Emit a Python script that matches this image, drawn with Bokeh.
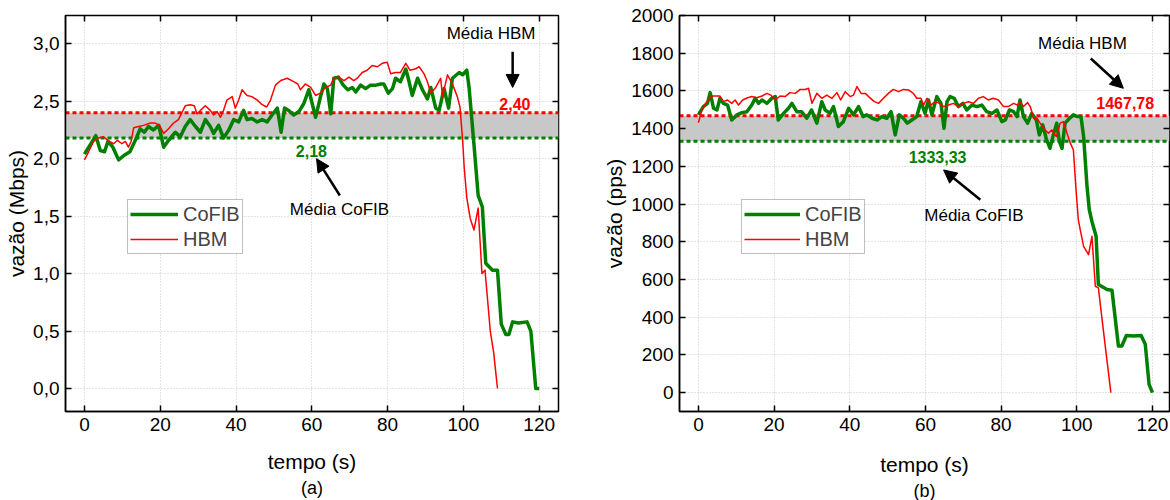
from bokeh.plotting import figure
from bokeh.models import (LinearAxis, FixedTicker, CustomJSTickFormatter, BoxAnnotation, Span,
                          Arrow, NormalHead, Legend, LegendItem, Title, Range1d, Label)
from bokeh.layouts import row
from bokeh.embed import file_html
from bokeh.resources import INLINE

# ---------------- data (a): throughput in Mbps ----------------
a_cofib_t = [0, 1.5, 3, 4.2, 5.3, 6.2, 7.5, 9, 10.5, 12, 13.7, 14.7, 15.8, 16.9, 18.2, 19.6, 20.9, 22.2, 24, 25.3,
             26.6, 27.9, 29.3, 30.6, 31.9, 33.2, 34.1, 35.4, 36.7, 38.1, 39.4, 40.7, 42, 42.9, 44.2, 45.6, 46.9, 48.2,
             49.5, 50.9, 51.9, 52.8, 53.9, 55.2, 56.6, 57.9, 59.2, 61, 62.3, 63.2, 64.1, 65, 65.8, 67, 68.3, 69.5,
             70.7, 71.6, 72.9, 74.2, 75.5, 76.9, 78.2, 79, 80.2, 81.3, 82.1, 83.4, 84.8, 85.6, 86.5, 87.9, 89.2,
             90.5, 91.4, 92.7, 93.6, 94.9, 96.1, 97.1, 98.9, 99.8, 100.9, 101.5, 102.8, 103.9, 105, 105.9, 107.7,
             109, 110, 111.2, 112, 113, 114.5, 116.8, 117.8, 119.1, 120]
a_cofib_v = [2.04, 2.12, 2.20, 2.07, 2.06, 2.15, 2.10, 1.99, 2.03, 2.06, 2.18, 2.26, 2.23, 2.28, 2.25, 2.29, 2.10,
             2.16, 2.23, 2.19, 2.28, 2.34, 2.28, 2.23, 2.34, 2.28, 2.22, 2.29, 2.18, 2.25, 2.34, 2.32, 2.42, 2.34,
             2.35, 2.32, 2.34, 2.32, 2.38, 2.44, 2.23, 2.44, 2.42, 2.38, 2.41, 2.48, 2.60, 2.36, 2.54, 2.65, 2.61,
             2.39, 2.70, 2.71, 2.64, 2.60, 2.62, 2.58, 2.64, 2.61, 2.64, 2.64, 2.65, 2.65, 2.57, 2.61, 2.70, 2.67,
             2.78, 2.68, 2.55, 2.70, 2.60, 2.52, 2.62, 2.44, 2.42, 2.61, 2.44, 2.70, 2.75, 2.73, 2.77, 2.62, 2.12,
             1.68, 1.58, 1.09, 1.03, 1.03, 0.56, 0.47, 0.47, 0.58, 0.57, 0.58, 0.50, 0.00, 0.00]
a_hbm_t = [0, 1.1, 2.4, 3.7, 5, 6.6, 7.7, 8.7, 9.9, 10.8, 11.6, 12.3, 13, 14.3, 15.6, 17.4, 18.7, 19.8, 20.9, 22.2,
           23.5, 24.8, 26.6, 27.9, 29, 29.7, 30.6, 31.9, 33.2, 34.1, 35, 35.9, 36.7, 37.6, 39, 39.8, 40.7, 41.6,
           42.9, 44.2, 45.6, 46.9, 48.1, 49.1, 50.4, 51.8, 53.5, 55.2, 56.3, 57, 58.3, 59.7, 61, 62.3, 63.6, 65,
           65.8, 67.1, 68.5, 69.8, 71.1, 72, 73.3, 74.6, 75.9, 77.3, 78.6, 79.9, 80.8, 82.1, 83.4, 84.8, 85.9, 87.2,
           88.3, 89.6, 90.5, 91.4, 92.7, 94, 94.5, 95.8, 97.1, 98.4, 99.1, 99.8, 100.2, 100.9, 101.8, 102.8, 103.9,
           104.9, 105.7, 107.1, 108, 109]
a_hbm_v = [1.99, 2.06, 2.15, 2.18, 2.19, 2.15, 2.13, 2.16, 2.13, 2.15, 2.10, 2.15, 2.27, 2.28, 2.29, 2.31, 2.31,
           2.29, 2.22, 2.26, 2.31, 2.34, 2.46, 2.47, 2.46, 2.39, 2.42, 2.46, 2.42, 2.38, 2.41, 2.36, 2.42, 2.51,
           2.54, 2.44, 2.51, 2.60, 2.55, 2.54, 2.51, 2.47, 2.45, 2.51, 2.64, 2.68, 2.70, 2.67, 2.65, 2.60, 2.65,
           2.62, 2.55, 2.57, 2.62, 2.64, 2.70, 2.71, 2.68, 2.71, 2.68, 2.70, 2.75, 2.77, 2.81, 2.80, 2.83, 2.84,
           2.74, 2.75, 2.75, 2.83, 2.77, 2.78, 2.80, 2.74, 2.67, 2.57, 2.62, 2.70, 2.54, 2.73, 2.65, 2.54, 2.45,
           2.16, 1.93, 1.66, 1.48, 1.38, 1.57, 1.00, 1.03, 0.50, 0.31, 0.00]
a_mean_cofib = 2.18
a_mean_hbm = 2.40

# ---------------- data (b): throughput in pps ----------------
b_cofib_t = [0, 1.3, 2.4, 3.1, 4, 4.9, 5.7, 6.6, 7.7, 8.8, 10.2, 11.5, 12.8, 14.1, 15, 15.9, 16.8, 18.1, 19.4, 20.3,
             21.1, 22.5, 23.8, 24.7, 26, 27.3, 28.6, 29.9, 31.3, 32.6, 33.5, 34.8, 35.7, 37, 38.3, 39.7, 41, 42.3,
             43.5, 44.5, 45.9, 47.2, 48.5, 49.8, 50.9, 52, 53.1, 54.2, 55.2, 56.4, 57.7, 58.8, 59.9, 60.8, 61.7, 63,
             64.1, 64.9, 65.7, 66.5, 67.6, 68.7, 69.9, 70.9, 72.3, 73.6, 74.9, 76.2, 77.6, 78.9, 80.2, 81.1, 82.2,
             83.3, 84.2, 85, 85.9, 87, 88.1, 89.3, 90.1, 91, 91.9, 92.9, 93.8, 94.7, 95.4, 96.1, 96.9, 98.1, 99.1,
             100.2, 101.1, 101.8, 102.7, 103.3, 104, 105.1, 105.7, 108, 109.3, 111, 111.9, 113.1, 115, 117, 118.1,
             119.1, 120]
b_cofib_v = [1473, 1517, 1534, 1591, 1508, 1499, 1561, 1534, 1525, 1446, 1473, 1485, 1490, 1525, 1561, 1534, 1552,
             1534, 1561, 1570, 1446, 1481, 1508, 1534, 1490, 1490, 1455, 1499, 1429, 1543, 1499, 1481, 1517, 1411,
             1437, 1508, 1473, 1517, 1464, 1473, 1455, 1446, 1464, 1455, 1490, 1367, 1473, 1455, 1429, 1446, 1464,
             1543, 1481, 1552, 1473, 1570, 1534, 1402, 1543, 1570, 1561, 1517, 1534, 1499, 1525, 1517, 1525, 1490,
             1481, 1499, 1437, 1446, 1499, 1490, 1464, 1552, 1464, 1429, 1481, 1446, 1367, 1420, 1349, 1296, 1367,
             1429, 1332, 1296, 1429, 1455, 1473, 1464, 1464, 1358, 1094, 970, 908, 829, 573, 547, 543, 247, 247,
             303, 300, 303, 256, 44, 0]
b_hbm_t = [0, 0.9, 2.2, 3.5, 4.9, 5.7, 6.6, 7.7, 8.8, 9.7, 10.6, 11.7, 13, 14.1, 15.4, 16.8, 18.1, 19.1, 20.3, 21.6,
           22.9, 24.2, 25.6, 26.9, 28.2, 29.1, 30, 31.3, 32.6, 33.9, 35.3, 36.6, 37.6, 38.8, 40.1, 41, 41.9, 43,
           44.1, 45.2, 46.5, 47.6, 48.9, 50.2, 51.5, 52.9, 54.2, 55.5, 56.8, 57.7, 58.8, 59.5, 60.4, 61.4, 62.6,
           63.7, 64.8, 66.1, 67.4, 68.7, 70, 71.4, 72.7, 74, 75.3, 76.6, 77.9, 79.3, 80.6, 81.9, 83.3, 84.3, 85,
           85.9, 87, 87.7, 88.6, 89.5, 90.3, 91.6, 92.5, 93.4, 94.6, 95.6, 96.5, 97.4, 98.3, 99.1, 99.8, 100.4,
           100.9, 101.8, 103.1, 104, 104.9, 105.7, 107.1, 109]
b_hbm_v = [1432, 1499, 1543, 1573, 1573, 1573, 1543, 1552, 1534, 1552, 1525, 1552, 1564, 1570, 1564, 1573, 1587,
           1578, 1552, 1573, 1570, 1591, 1587, 1608, 1608, 1614, 1534, 1587, 1561, 1578, 1561, 1591, 1552, 1596,
           1570, 1578, 1623, 1587, 1587, 1566, 1543, 1534, 1561, 1587, 1608, 1596, 1608, 1605, 1587, 1561, 1561,
           1525, 1561, 1525, 1543, 1534, 1517, 1525, 1534, 1517, 1534, 1543, 1534, 1561, 1570, 1552, 1561, 1552,
           1517, 1517, 1534, 1525, 1543, 1517, 1538, 1517, 1455, 1455, 1429, 1393, 1376, 1393, 1358, 1429, 1437,
           1376, 1323, 1287, 1076, 917, 864, 776, 732, 829, 564, 556, 317, 0]
b_mean_cofib = 1333.33
b_mean_hbm = 1467.78

x_ticks = [0, 20, 40, 60, 80, 100, 120]
a_y_ticks = [0, 0.5, 1.0, 1.5, 2.0, 2.5, 3.0]
b_y_ticks = [0, 200, 400, 600, 800, 1000, 1200, 1400, 1600, 1800, 2000]

FONT = "Liberation Sans"
GREEN = "#008000"
RED = "#ff0000"


def comma(v, d):
    return f"{v:.{d}f}".replace(".", ",")


def style_axis(ax, ticks, shown=True):
    ax.ticker = FixedTicker(ticks=ticks)
    ax.major_tick_in = 6
    ax.major_tick_out = 0
    ax.major_tick_line_width = 1.5
    ax.major_tick_line_color = "black"
    ax.minor_tick_line_color = None
    ax.axis_line_width = 1.5
    ax.axis_line_color = "black"
    ax.major_label_text_font = FONT
    if shown:
        ax.major_label_text_color = "black"
        ax.major_label_text_font_size = "19px"
        ax.major_label_standoff = 6
    else:
        # mirrored tick marks only: labels are not painted
        ax.major_label_text_color = None
        ax.major_label_text_font_size = "1px"
        ax.major_label_standoff = 0
    ax.axis_label_text_font = FONT
    ax.axis_label_text_font_size = "21px"
    ax.axis_label_text_font_style = "normal"
    ax.axis_label_text_color = "black"


def make_panel(width, mbl, mbr, mbt, mbb, xr, yr, yticks, ylabel, yfmt,
               ct, cv, ht, hv, m_c, m_h, dec, sub, glyph_w, ann, xlab_standoff):
    p = figure(width=width, height=500, output_backend="svg", toolbar_location=None,
               x_range=Range1d(*xr), y_range=Range1d(*yr),
               min_border_left=mbl, min_border_right=mbr, min_border_top=mbt, min_border_bottom=mbb,
               background_fill_color="white", border_fill_color="white")
    p.outline_line_color = "black"
    p.outline_line_width = 1.5
    style_axis(p.xaxis[0], x_ticks)
    style_axis(p.yaxis[0], yticks)
    p.xaxis[0].axis_label = "tempo (s)"
    p.yaxis[0].axis_label = ylabel
    p.yaxis[0].axis_label_standoff = 2
    p.xaxis[0].axis_label_standoff = xlab_standoff
    if yfmt is not None:
        p.yaxis[0].formatter = yfmt
    top = LinearAxis()
    style_axis(top, x_ticks, shown=False)
    top.axis_line_color = None
    p.add_layout(top, "above")
    right = LinearAxis()
    style_axis(right, yticks, shown=False)
    right.axis_line_color = None
    p.add_layout(right, "right")

    for g in (p.xgrid[0], p.ygrid[0]):
        g.grid_line_color = "#c8c8c8"
        g.grid_line_dash = "1 2"
        g.grid_line_width = 1

    p.add_layout(BoxAnnotation(bottom=m_c, top=m_h, fill_color="#c8c8c8", fill_alpha=1.0,
                               line_color=None, level="underlay"))
    p.add_layout(Span(location=m_h, dimension="width", line_color=RED, line_width=3,
                      line_dash="4 3", level="underlay"))
    p.add_layout(Span(location=m_c, dimension="width", line_color=GREEN, line_width=3,
                      line_dash="4 3", level="underlay"))

    g = p.line(ct, cv, line_color=GREEN, line_width=3.5, line_join="round")
    r = p.line(ht, hv, line_color=RED, line_width=1.5, line_join="round")

    leg = Legend(items=[LegendItem(label="CoFIB", renderers=[g]), LegendItem(label="HBM", renderers=[r])],
                 location=(62, 157), padding=2, spacing=1, glyph_height=24, glyph_width=glyph_w,
                 label_standoff=5, label_text_font=FONT, label_text_font_size="20px", margin=0,
                 border_line_color="#808080", border_line_width=1, background_fill_alpha=1.0,
                 label_height=24)
    p.add_layout(leg)

    (hx, hy), (hax0, hay0, hax1, hay1), (nhx, nhy), (ncx, ncy), (cax0, cay0, cax1, cay1), (mcx, mcy) = ann
    p.add_layout(Label(x=hx, y=hy, text="Média HBM", text_align="center", text_baseline="middle",
                       text_font=FONT, text_font_size="17px", text_color="black"))
    p.add_layout(Arrow(x_start=hax0, y_start=hay0, x_end=hax1, y_end=hay1, line_width=2.5, line_color="black",
                       end=NormalHead(size=13, fill_color="black", line_color="black")))
    p.add_layout(Label(x=nhx, y=nhy, text=comma(m_h, dec), text_align="center", text_baseline="middle",
                       text_font=FONT, text_font_size="16px", text_font_style="bold", text_color=RED))
    p.add_layout(Label(x=ncx, y=ncy, text=comma(m_c, dec), text_align="center", text_baseline="middle",
                       text_font=FONT, text_font_size="16px", text_font_style="bold", text_color=GREEN))
    p.add_layout(Arrow(x_start=cax0, y_start=cay0, x_end=cax1, y_end=cay1, line_width=2.5, line_color="black",
                       end=NormalHead(size=13, fill_color="black", line_color="black")))
    p.add_layout(Label(x=mcx, y=mcy, text="Média CoFIB", text_align="center", text_baseline="middle",
                       text_font=FONT, text_font_size="17px", text_color="black"))

    p.add_layout(Title(text=sub, align="center", text_font=FONT, text_font_size="18px",
                       text_font_style="normal", text_color="black", standoff=0), "below")
    return p


fmt_a = CustomJSTickFormatter(code="return tick.toFixed(1).replace('.', ',');")

pa = make_panel(600, 65, 42, 15, 85, (-5, 125.1), (-0.2, 3.246), a_y_ticks, "vazão (Mbps)", fmt_a,
                a_cofib_t, a_cofib_v, a_hbm_t, a_hbm_v, a_mean_cofib, a_mean_hbm, 2, "(a)", 48,
                ((107.3, 3.09), (113, 2.93, 113, 2.62), (113.6, 2.48), (59.9, 2.07),
                 (67.4, 1.68, 61.25, 2.00), (67.3, 1.56)), 16)
pb = make_panel(570, 79, 1, 12, 88, (-5, 124.5), (-100, 2000), b_y_ticks, "vazão (pps)", None,
                b_cofib_t, b_cofib_v, b_hbm_t, b_hbm_v, b_mean_cofib, b_mean_hbm, 2, "(b)", 56,
                ((101.5, 1852), (103.7, 1772, 112.3, 1614), (112.8, 1534), (63.2, 1252),
                 (74.5, 1023, 64.8, 1181), (72.8, 940)), 19)

layout = row(pa, pb, spacing=0)
open("out.html", "w").write(file_html(layout, INLINE))
